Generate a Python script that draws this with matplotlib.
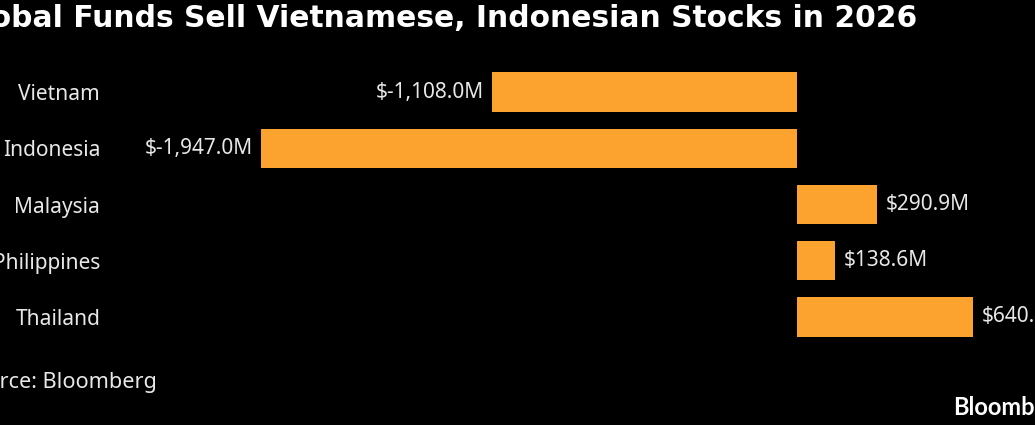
"""Bar chart: global fund flows into Southeast Asian stocks in 2026."""

from __future__ import annotations

import matplotlib

matplotlib.use("Agg")
import matplotlib.pyplot as plt

countries = ["Vietnam", "Indonesia", "Malaysia", "Philippines", "Thailand"]
net_flows_musd = [-1108.0, -1947.0, 290.9, 138.6, 640.3]

TITLE = "Global Funds Sell Vietnamese, Indonesian Stocks in 2026"
SOURCE = "Source: Bloomberg"
BRAND = "Bloomberg"

W, H = 1035, 425
BG = "#000000"
BAR = "#fca32f"
TEXT = "#e8e8e8"
FONT = ["Noto Sans", "DejaVu Sans"]

# pixel scale: zero line at x=797, 0.2753 px per $1M
ZERO_PX = 797
PX_PER_M = 0.2753


def px(x: float, y: float) -> tuple[float, float]:
    return x / W, 1 - y / H


def main() -> None:
    fig = plt.figure(figsize=(W / 100, H / 100), dpi=100, facecolor=BG)

    ax_left, ax_right = 103, W
    ax_top, ax_bottom = 64, 345
    ax = fig.add_axes([
        ax_left / W,
        (H - ax_bottom) / H,
        (ax_right - ax_left) / W,
        (ax_bottom - ax_top) / H,
    ])
    ax.set_facecolor(BG)

    pos = range(len(countries))
    bars = ax.barh(pos, net_flows_musd, height=0.7, color=BAR, edgecolor="none")
    ax.set_xlim((ax_left - ZERO_PX) / PX_PER_M, (ax_right - ZERO_PX) / PX_PER_M)
    ax.set_ylim(len(countries) - 0.5, -0.5)

    ax.set_yticks(list(pos), countries)
    ax.tick_params(axis="y", length=0, pad=2, colors=TEXT, labelsize=15)
    for lbl in ax.get_yticklabels():
        lbl.set_family(FONT)
    ax.set_xticks([])
    for spine in ax.spines.values():
        spine.set_visible(False)

    ax.bar_label(
        bars,
        labels=[f"${v:,.1f}M" for v in net_flows_musd],
        padding=6,
        color=TEXT,
        fontsize=15,
        family=FONT,
        clip_on=False,
    )

    # the source image is cropped at the edges, so these run off the canvas
    x, y = px(917, 27)
    fig.text(x, y, TITLE, ha="right", va="baseline", color="white",
             fontsize=21.45, fontweight="bold", family="DejaVu Sans")

    x, y = px(157, 388)
    fig.text(x, y, SOURCE, ha="right", va="baseline", color=TEXT,
             fontsize=15.6, family=FONT)

    x, y = px(953, 415)
    fig.text(x, y, BRAND, ha="left", va="baseline", color="white",
             fontsize=17, fontweight="bold", family="Lato")

    fig.savefig("out.png", dpi=100, facecolor=BG)
    plt.close(fig)


if __name__ == "__main__":
    main()
